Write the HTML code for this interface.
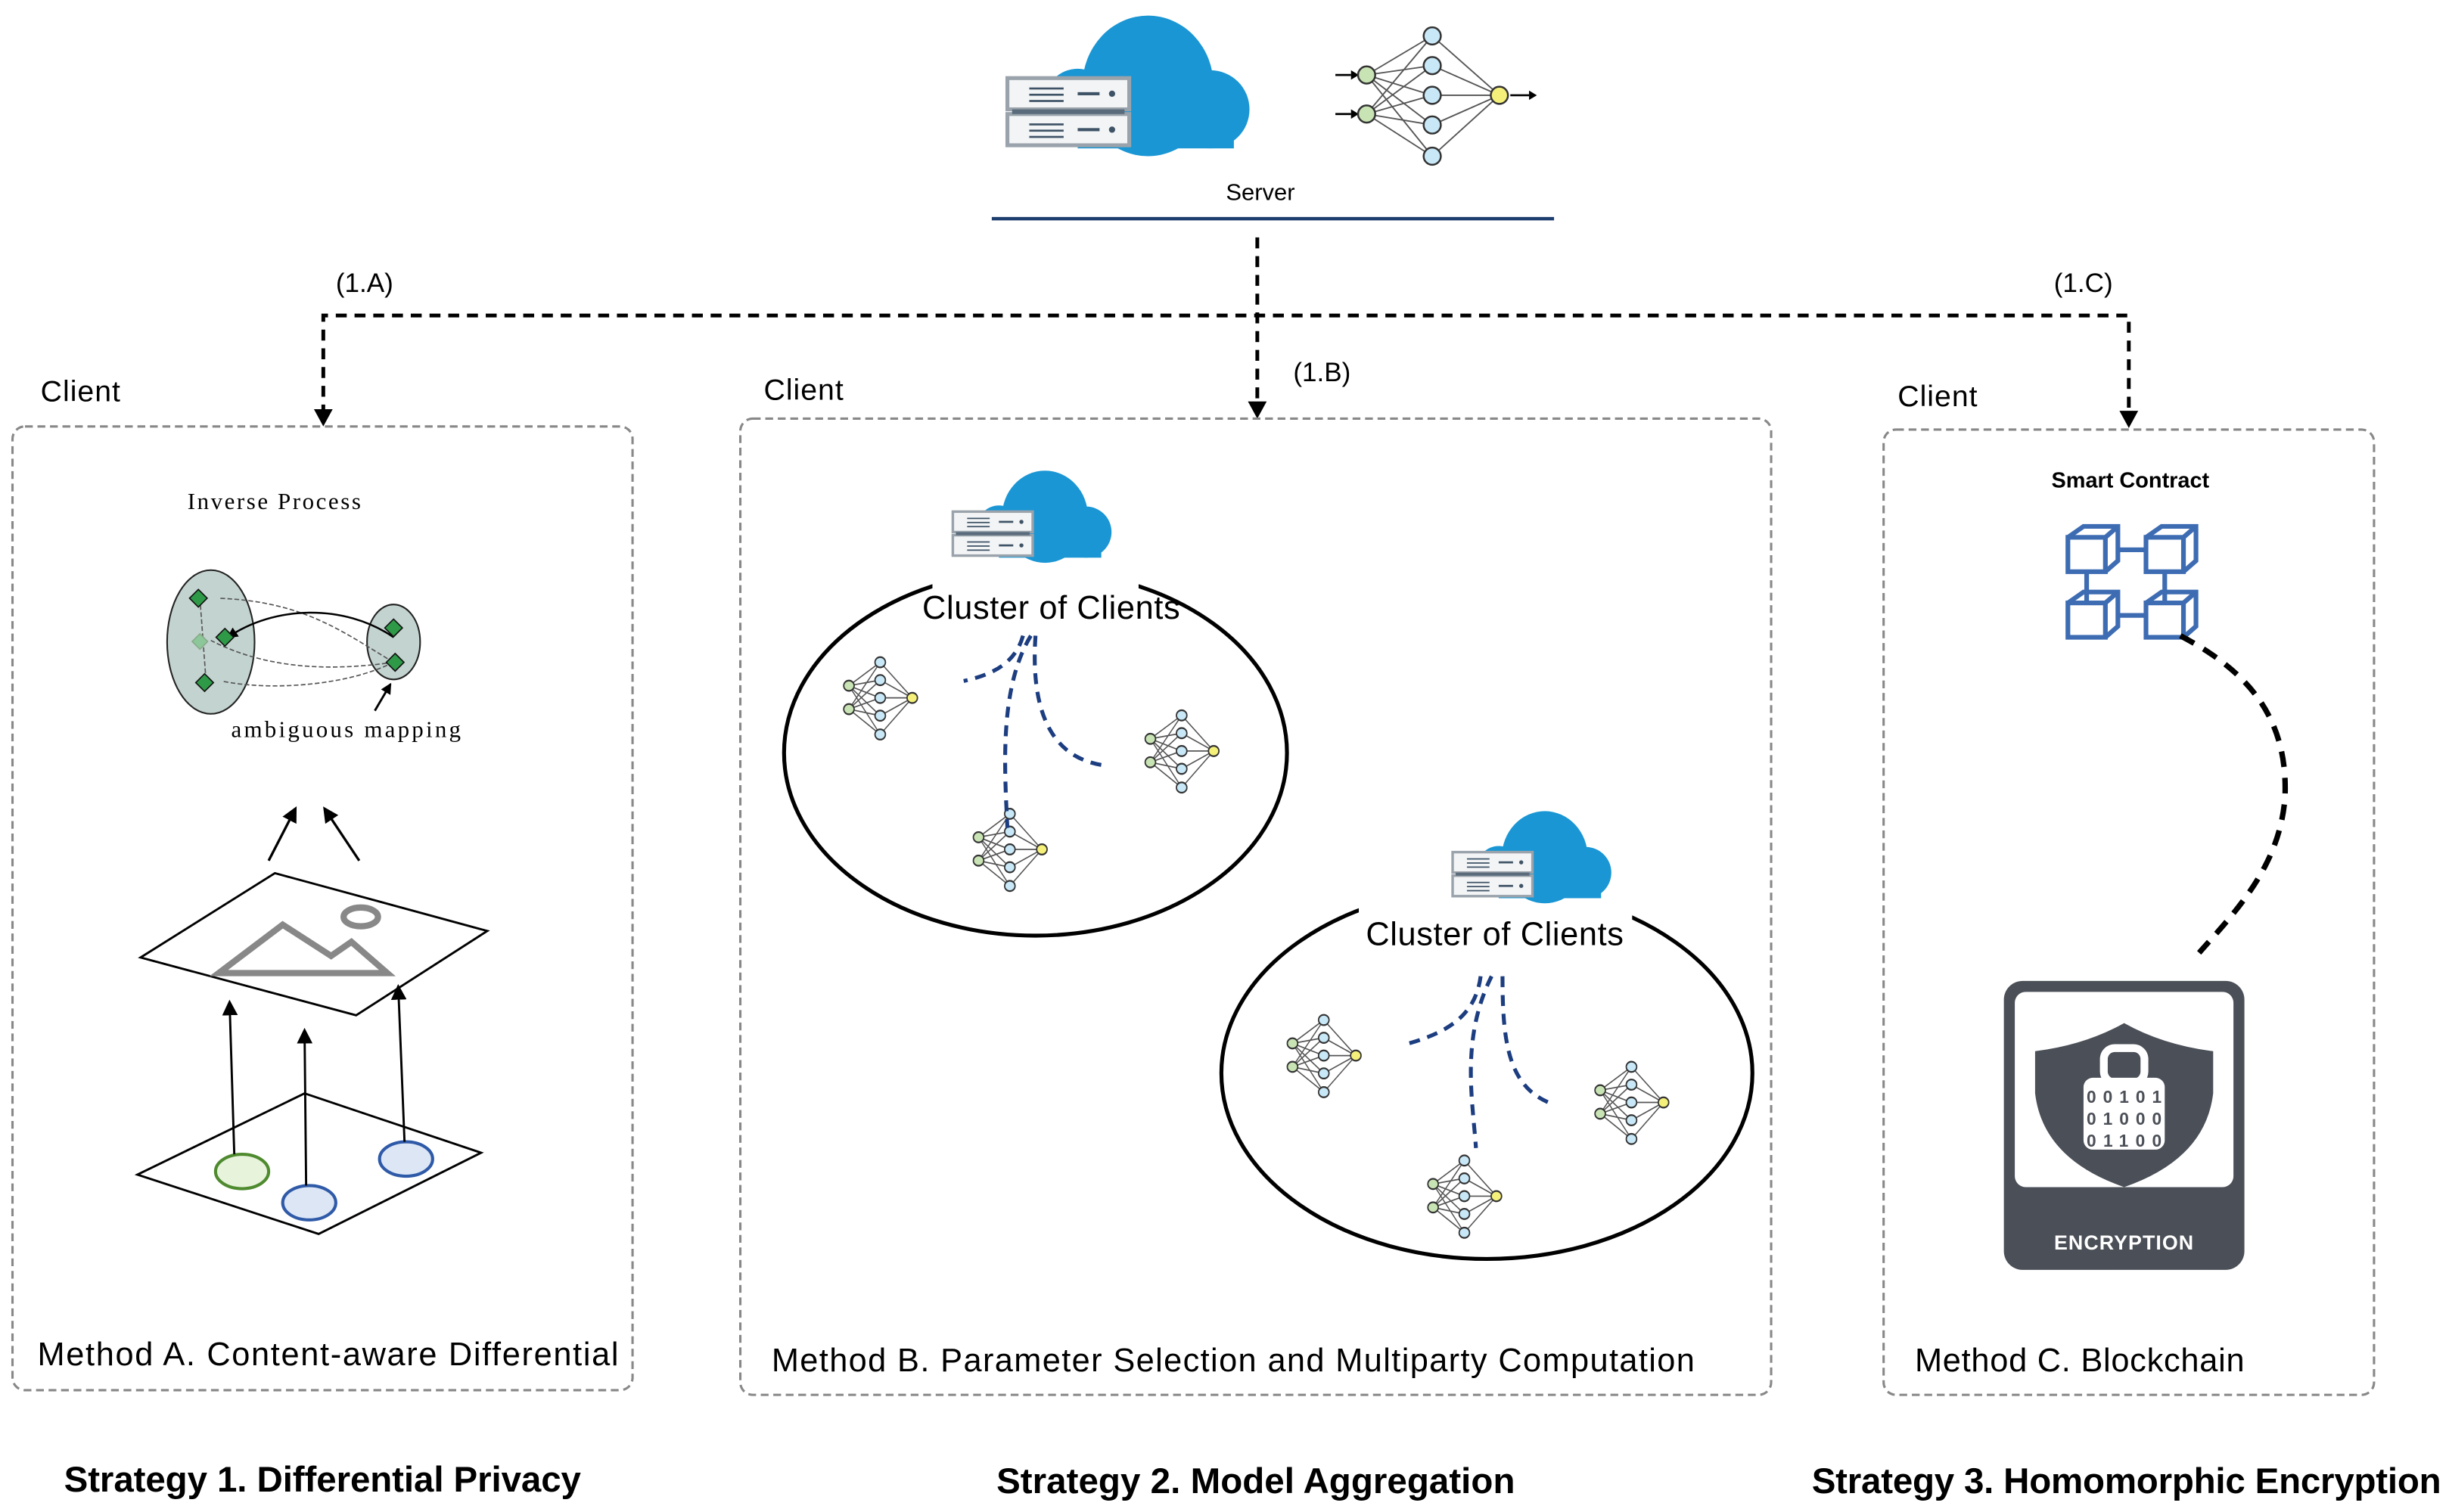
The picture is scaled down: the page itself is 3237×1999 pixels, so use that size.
<!DOCTYPE html>
<html><head><meta charset="utf-8"><style>
html,body{margin:0;padding:0;background:#fff}
svg{display:block}
text{font-family:"Liberation Sans",sans-serif}
.serif{font-family:"Liberation Serif",serif}
</style></head><body>
<svg width="3237" height="1999" viewBox="0 0 1568 968" preserveAspectRatio="none" xmlns="http://www.w3.org/2000/svg">
<defs>
<marker id="ah" markerWidth="10" markerHeight="10" refX="8" refY="5" orient="auto" markerUnits="userSpaceOnUse"><path d="M0,0 L10,5 L0,10 z" fill="#000"/></marker>
<marker id="sa" markerWidth="7" markerHeight="7" refX="6" refY="3.5" orient="auto" markerUnits="userSpaceOnUse"><path d="M0,0 L7,3.5 L0,7 z" fill="#000"/></marker>
<symbol id="nn" viewBox="0 0 130 90" overflow="visible" preserveAspectRatio="none">
<g stroke="#555" stroke-width="0.9">
<path d="M20,30 L62,5 M20,30 L62,24 M20,30 L62,43 M20,30 L62,62 M20,30 L62,82 M20,55 L62,5 M20,55 L62,24 M20,55 L62,43 M20,55 L62,62 M20,55 L62,82 M62,5 L105,43 M62,24 L105,43 M62,43 L105,43 M62,62 L105,43 M62,82 L105,43"/>
</g>
<path d="M0,30 H10 M0,55 H10 M112,43 H124" stroke="#000" stroke-width="1.3"/>
<path d="M10,27 L15,30 L10,33z M10,52 L15,55 L10,58z M124,40 L129,43 L124,46z" fill="#000"/>
<g stroke="#333" stroke-width="1.2">
<circle cx="20" cy="30" r="5.5" fill="#c9e4b4"/><circle cx="20" cy="55" r="5.5" fill="#c9e4b4"/>
<circle cx="62" cy="5" r="5.5" fill="#c8e8f8"/><circle cx="62" cy="24" r="5.5" fill="#c8e8f8"/><circle cx="62" cy="43" r="5.5" fill="#c8e8f8"/><circle cx="62" cy="62" r="5.5" fill="#c8e8f8"/><circle cx="62" cy="82" r="5.5" fill="#c8e8f8"/>
<circle cx="105" cy="43" r="5.5" fill="#f5f07a"/>
</g>
</symbol>
<symbol id="nns" viewBox="0 0 130 90" overflow="visible" preserveAspectRatio="none">
<g stroke="#555" stroke-width="1.4">
<path d="M20,30 L62,5 M20,30 L62,24 M20,30 L62,43 M20,30 L62,62 M20,30 L62,82 M20,55 L62,5 M20,55 L62,24 M20,55 L62,43 M20,55 L62,62 M20,55 L62,82 M62,5 L105,43 M62,24 L105,43 M62,43 L105,43 M62,62 L105,43 M62,82 L105,43"/>
</g>
<g stroke="#333" stroke-width="1.8">
<ellipse cx="20" cy="30" rx="7" ry="5.5" fill="#c9e4b4"/><ellipse cx="20" cy="55" rx="7" ry="5.5" fill="#c9e4b4"/>
<ellipse cx="62" cy="5" rx="7" ry="5.5" fill="#c8e8f8"/><ellipse cx="62" cy="24" rx="7" ry="5.5" fill="#c8e8f8"/><ellipse cx="62" cy="43" rx="7" ry="5.5" fill="#c8e8f8"/><ellipse cx="62" cy="62" rx="7" ry="5.5" fill="#c8e8f8"/><ellipse cx="62" cy="82" rx="7" ry="5.5" fill="#c8e8f8"/>
<ellipse cx="105" cy="43" rx="7" ry="5.5" fill="#f5f07a"/>
</g>
</symbol>
<symbol id="cl" viewBox="0 0 160 90" overflow="visible">
<g fill="#1a96d4">
<ellipse cx="90" cy="47" rx="42" ry="45"/><circle cx="130" cy="62" r="25"/><circle cx="45" cy="57" r="21"/><rect x="45" y="55" width="100" height="32"/>
</g>
<g>
<rect x="0" y="42" width="78" height="20" fill="#f2f4f6" stroke="#9aa3ab" stroke-width="2.5"/>
<rect x="0" y="65" width="78" height="20" fill="#f2f4f6" stroke="#9aa3ab" stroke-width="2.5"/>
<rect x="3" y="62" width="72" height="3" fill="#5a6b7c"/>
<g fill="#3f5366"><rect x="14" y="48" width="22" height="1.3"/><rect x="14" y="52" width="22" height="1.3"/><rect x="14" y="56" width="22" height="1.3"/><rect x="14" y="71" width="22" height="1.3"/><rect x="14" y="75" width="22" height="1.3"/><rect x="14" y="79" width="22" height="1.3"/>
<rect x="45" y="51" width="14" height="2"/><rect x="45" y="74" width="14" height="2"/><circle cx="67" cy="52" r="2"/><circle cx="67" cy="75" r="2"/></g>
</g>
</symbol>
</defs>

<!-- Server -->
<use href="#cl" x="645" y="8" width="160" height="90"/>
<use href="#nn" x="855" y="18" width="130" height="90"/>
<text x="807" y="128" font-size="15" text-anchor="middle">Server</text>
<line x1="635" y1="140" x2="995" y2="140" stroke="#1c3d6e" stroke-width="2.2"/>

<!-- connectors -->
<g stroke="#000" stroke-width="2.4" stroke-dasharray="7,5" fill="none">
<line x1="805" y1="152" x2="805" y2="262"/>
<polyline points="207,266 207,202 1363,202 1363,268"/>
</g>
<path d="M201,262 L213,262 L207,273z M1357,263 L1369,263 L1363,274z M799,257 L811,257 L805,268z" fill="#000"/>
<text x="215" y="187" font-size="17">(1.A)</text>
<text x="828" y="244" font-size="17">(1.B)</text>
<text x="1315" y="187" font-size="17">(1.C)</text>

<!-- boxes -->
<g fill="none" stroke="#888" stroke-width="1.5" stroke-dasharray="5,3">
<rect x="8" y="273" width="397" height="617" rx="8"/>
<rect x="474" y="268" width="660" height="625" rx="8"/>
<rect x="1206" y="275" width="314" height="618" rx="8"/>
</g>
<text x="26" y="257" font-size="19" textLength="51">Client</text>
<text x="489" y="256" font-size="19" textLength="51">Client</text>
<text x="1215" y="260" font-size="19" textLength="51">Client</text>

<!-- Left panel -->
<text class="serif" x="120" y="326" font-size="15" textLength="111">Inverse Process</text>
<ellipse cx="135" cy="411" rx="28" ry="46" fill="#c3d3cf" stroke="#222" stroke-width="1"/>
<ellipse cx="252" cy="411" rx="17" ry="24" fill="#c3d3cf" stroke="#222" stroke-width="1"/>
<g fill="none" stroke="#555" stroke-width="0.8" stroke-dasharray="3,1.5">
<path d="M252,424 C220,405 195,385 140,383"/>
<path d="M252,424 C210,430 170,428 135,410"/>
<path d="M252,424 C220,440 170,442 142,436"/>
<path d="M128,383 L130,410 L132,437"/>
</g>
<path d="M252,408 C220,386 175,388 146,408" fill="none" stroke="#000" stroke-width="1.2" marker-end="url(#sa)"/>
<g fill="#2e9a48" stroke="#111" stroke-width="0.8">
<rect x="123" y="379" width="8" height="8" transform="rotate(45 127 383)"/>
<rect x="140" y="404" width="8" height="8" transform="rotate(45 144 408)"/>
<rect x="127" y="433" width="8" height="8" transform="rotate(45 131 437)"/>
<rect x="248" y="398" width="8" height="8" transform="rotate(45 252 402)"/>
<rect x="249" y="420" width="8" height="8" transform="rotate(45 253 424)"/>
<rect x="125" y="407" width="7" height="7" fill="#8cc79a" stroke="#8a8" transform="rotate(45 128 410)"/>
</g>
<line x1="240" y1="455" x2="250" y2="438" stroke="#000" stroke-width="1.4" marker-end="url(#sa)"/>
<text class="serif" x="148" y="472" font-size="15" textLength="147">ambiguous mapping</text>
<line x1="172" y1="551" x2="189" y2="518" stroke="#000" stroke-width="1.6" marker-end="url(#ah)"/>
<line x1="230" y1="551" x2="208" y2="518" stroke="#000" stroke-width="1.6" marker-end="url(#ah)"/>
<polygon points="90,613 176,559 312,596 228,650" fill="#fff" stroke="#000" stroke-width="1.4"/>
<polygon points="140,623 181,592 212,612 225,603 248,623" fill="none" stroke="#888" stroke-width="4" stroke-linejoin="miter"/>
<ellipse cx="231" cy="587" rx="11" ry="6" fill="none" stroke="#888" stroke-width="4"/>
<polygon points="88,752 195,700 308,738 204,790" fill="#fff" stroke="#000" stroke-width="1.4"/>
<ellipse cx="155" cy="750" rx="17" ry="11" fill="#e8f3dc" stroke="#4e8a2e" stroke-width="2"/>
<ellipse cx="198" cy="770" rx="17" ry="11" fill="#dce6f5" stroke="#2f5aa8" stroke-width="2"/>
<ellipse cx="260" cy="742" rx="17" ry="11" fill="#dce6f5" stroke="#2f5aa8" stroke-width="2"/>
<line x1="150" y1="739" x2="147" y2="642" stroke="#000" stroke-width="1.4" marker-end="url(#ah)"/>
<line x1="196" y1="759" x2="195" y2="660" stroke="#000" stroke-width="1.4" marker-end="url(#ah)"/>
<line x1="259" y1="731" x2="255" y2="632" stroke="#000" stroke-width="1.4" marker-end="url(#ah)"/>
<text x="24" y="874" font-size="21" textLength="372">Method A. Content-aware Differential</text>

<!-- Middle panel -->
<ellipse cx="663" cy="482" rx="161" ry="117" fill="none" stroke="#000" stroke-width="2.5"/>
<rect x="597" y="355" width="132" height="50" fill="#fff"/>
<use href="#cl" x="610" y="300" width="105" height="59"/>
<text x="673" y="396" font-size="21" text-anchor="middle" textLength="165">Cluster of Clients</text>
<use href="#nns" x="534" y="421" width="62" height="54"/>
<use href="#nns" x="727" y="455" width="62" height="54"/>
<use href="#nns" x="617" y="518" width="62" height="54"/>
<g fill="none" stroke="#1c3d80" stroke-width="2.5" stroke-dasharray="7,5">
<path d="M655,407 C650,425 635,432 617,436"/>
<path d="M660,407 C640,440 643,490 645,530"/>
<path d="M663,407 C660,450 670,485 707,490"/>
</g>
<ellipse cx="952" cy="687" rx="170" ry="119" fill="none" stroke="#000" stroke-width="2.5"/>
<rect x="870" y="565" width="175" height="45" fill="#fff"/>
<use href="#cl" x="930" y="518" width="105" height="59"/>
<text x="957" y="605" font-size="21" text-anchor="middle" textLength="165">Cluster of Clients</text>
<use href="#nns" x="818" y="650" width="62" height="54"/>
<use href="#nns" x="1015" y="680" width="62" height="54"/>
<use href="#nns" x="908" y="740" width="62" height="54"/>
<g fill="none" stroke="#1c3d80" stroke-width="2.5" stroke-dasharray="7,5">
<path d="M948,625 C945,648 930,660 902,668"/>
<path d="M955,625 C935,665 943,705 945,735"/>
<path d="M962,625 C962,665 965,695 992,706"/>
</g>
<text x="494" y="878" font-size="21" textLength="591">Method B. Parameter Selection and Multiparty Computation</text>

<!-- Right panel -->
<text x="1364" y="312" font-size="14" font-weight="bold" text-anchor="middle">Smart Contract</text>
<g fill="none" stroke="#3d6cb3" stroke-width="3">
<rect x="1324" y="344" width="24" height="22"/><path d="M1324,344 L1334,337 L1356,337 L1356,359 L1348,366 M1348,344 L1356,337"/>
<rect x="1374" y="344" width="24" height="22"/><path d="M1374,344 L1384,337 L1406,337 L1406,359 L1398,366 M1398,344 L1406,337"/>
<rect x="1324" y="386" width="24" height="22"/><path d="M1324,386 L1334,379 L1356,379 L1356,401 L1348,408 M1348,386 L1356,379"/>
<rect x="1374" y="386" width="24" height="22"/><path d="M1374,386 L1384,379 L1406,379 L1406,401 L1398,408 M1398,386 L1406,379"/>
<path d="M1356,352 H1374 M1356,394 H1374 M1336,366 V386 M1386,366 V386"/>
</g>
<path d="M1396,407 C1440,430 1465,460 1463,510 C1460,555 1430,585 1408,610" fill="none" stroke="#000" stroke-width="3.5" stroke-dasharray="10,7"/>
<rect x="1283" y="628" width="154" height="185" rx="12" fill="#4b4f57"/>
<rect x="1290" y="635" width="140" height="125" rx="7" fill="#fff"/>
<path d="M1303,673 Q1335,669 1360,655 Q1385,669 1417,673 L1417,700 Q1412,742 1360,760 Q1308,742 1303,700 Z" fill="#4b4f57"/>
<rect x="1347" y="671" width="26" height="22" rx="7" fill="none" stroke="#fff" stroke-width="5"/>
<rect x="1334" y="690" width="52" height="46" rx="6" fill="#fff"/>
<g font-family="Liberation Mono,monospace" font-size="11" font-weight="bold" fill="#4b4f57" text-anchor="middle">
<text x="1360" y="706" textLength="48">00101</text><text x="1360" y="720" textLength="48">01000</text><text x="1360" y="734" textLength="48">01100</text>
</g>
<text x="1360" y="800" font-size="13" font-weight="bold" fill="#fff" text-anchor="middle" letter-spacing="0.5">ENCRYPTION</text>
<text x="1226" y="878" font-size="21" textLength="211">Method C. Blockchain</text>

<!-- Strategies -->
<text x="41" y="955" font-size="23" font-weight="bold" textLength="331">Strategy 1. Differential Privacy</text>
<text x="638" y="956" font-size="23" font-weight="bold" textLength="332">Strategy 2. Model Aggregation</text>
<text x="1160" y="956" font-size="23" font-weight="bold" textLength="403">Strategy 3. Homomorphic Encryption</text>
</svg>
</body></html>
